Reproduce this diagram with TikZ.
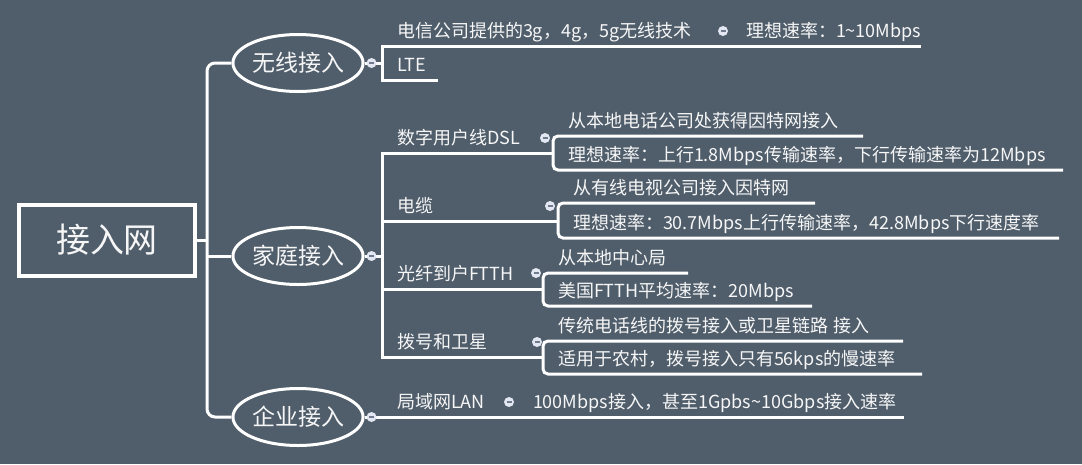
\documentclass[tikz,border=0pt]{standalone}
\usepackage{fontspec}
\setmainfont{Noto Sans CJK SC}
\usetikzlibrary{shapes,positioning}
\definecolor{mapbg}{RGB}{80,94,108}
\definecolor{mapknob}{RGB}{226,231,242}
\definecolor{mapbar}{RGB}{112,124,142}
\definecolor{maptext}{RGB}{246,246,246}
\tikzstyle{maplink} = [draw=white, line width=3pt]
\tikzstyle{rootbox} = [rectangle, draw=white, line width=4pt, minimum width=176pt, minimum height=71pt, text=maptext, font=\fontsize{34}{36}\selectfont]
\tikzstyle{branchbox} = [ellipse, draw=white, line width=3pt, minimum width=129pt, minimum height=57pt, inner sep=0pt, text=maptext, font=\fontsize{23}{25}\selectfont]
\tikzstyle{topicbox} = [anchor=south west, inner xsep=15pt, inner ysep=6pt, outer sep=0pt, text height=15.8pt, text depth=2.2pt, align=left, text=maptext, font=\fontsize{18}{20}\selectfont]
\tikzstyle{knobdot} = [circle, fill=mapknob, minimum size=10pt, inner sep=0pt]
\newcommand{\minusbar}{\textcolor{mapbar}{\rule{5pt}{1.8pt}}}

\begin{document}
\begin{tikzpicture}[x=1pt, y=-1pt]
% Background
\fill[mapbg] (0,0) rectangle (1082,464);
\useasboundingbox (0,0) rectangle (1082,464);

% Root and main branches
\node (net) [rootbox] at (107,240) {接入网};
\node (wx) [branchbox] at (298,63) {无线接入};
\node (jt) [branchbox] at (298,256) {家庭接入};
\node (qy) [branchbox] at (298,417) {企业接入};
\coordinate (hub) at (207,240);

% Wireless topics
\node (wx1) [topicbox, text width=319pt] at (382,46) {电信公司提供的3g，4g，5g无线技术};
\node (wx1a) [topicbox, text width=160pt] at (wx1.south east) {理想速率：1\textasciitilde 10Mbps};
\node (wx2) [topicbox, text width=26pt] at (382,80) {LTE};

% Home topics
\node (jt1) [topicbox, text width=141pt] at (382,153) {数字用户线DSL};
\node (jt1a) [topicbox, text width=280pt] at ([yshift=17pt]jt1.south east) {从本地电话公司处获得因特网接入};
\node (jt1b) [topicbox, text width=480pt] at ([yshift=-17pt]jt1.south east) {理想速率：上行1.8Mbps传输速率，下行传输速率为12Mbps};

\node (jt2) [topicbox, text width=146pt] at (382,221) {电缆};
\node (jt2a) [topicbox, text width=227pt] at ([yshift=18pt]jt2.south east) {从有线电视公司接入因特网};
\node (jt2b) [topicbox, text width=471pt] at ([yshift=-17pt]jt2.south east) {理想速率：30.7Mbps上行传输速率，42.8Mbps下行速度率};

\node (jt3) [topicbox, text width=131pt] at (382,289) {光纤到户FTTH};
\node (jt3a) [topicbox, text width=115pt] at ([yshift=16pt]jt3.south east) {从本地中心局};
\node (jt3b) [topicbox, text width=239pt] at ([yshift=-17pt]jt3.south east) {美国FTTH平均速率：20Mbps};

\node (jt4) [topicbox, text width=131pt] at (382,357) {拨号和卫星};
\node (jt4a) [topicbox, text width=330pt] at ([yshift=16pt]jt4.south east) {传统电话线的拨号接入或卫星链路~接入};
\node (jt4b) [topicbox, text width=349pt] at ([yshift=-17pt]jt4.south east) {适用于农村，拨号接入只有56kps的慢速率};

% Enterprise topics
\node (qy1) [topicbox, text width=106pt] at (382,417) {局域网LAN};
\node (qy1a) [topicbox, text width=356pt] at (qy1.south east) {100Mbps接入，甚至1Gpbs\textasciitilde 10Gbps接入速率};

% Connectors
\draw[maplink, rounded corners=8pt] (wx.west) -| (hub) |- (qy.west);
\draw[maplink] (net.east) -- (hub);
\draw[maplink] (hub |- jt.west) -- (jt.west);

\draw[maplink] (wx.east) -- (wx.east -| wx1.south west);
\draw[maplink] (wx1a.south east) -- (wx1.south west) -- (wx2.south west) -- (wx2.south east);

\draw[maplink] (jt.east) -- (jt.east -| jt1.south west);
\draw[maplink] (jt1.south east) -- (jt1.south west) -- (jt4.south west) -- (jt4.south east);
\draw[maplink] (jt2.south west) -- (jt2.south east);
\draw[maplink] (jt3.south west) -- (jt3.south east);
\draw[maplink, rounded corners=5pt] (jt1a.south east) -- (jt1a.south west) -- (jt1b.south west) -- (jt1b.south east);
\draw[maplink, rounded corners=5pt] (jt2a.south east) -- (jt2a.south west) -- (jt2b.south west) -- (jt2b.south east);
\draw[maplink, rounded corners=5pt] (jt3a.south east) -- (jt3a.south west) -- (jt3b.south west) -- (jt3b.south east);
\draw[maplink, rounded corners=5pt] (jt4a.south east) -- (jt4a.south west) -- (jt4b.south west) -- (jt4b.south east);

\draw[maplink] (qy.east) -- (qy1.south west) -- (qy1a.south east);

% Collapse knobs
\node (kwx) [knobdot] at ([xshift=7pt]wx.east) {\minusbar};
\node (kjt) [knobdot] at ([xshift=7pt]jt.east) {\minusbar};
\node (kqy) [knobdot] at ([xshift=7pt]qy.east) {\minusbar};
\node (kwx1) [knobdot] at ([xshift=-8pt, yshift=15pt]wx1.south east) {\minusbar};
\node (kjt1) [knobdot] at ([xshift=-8pt, yshift=15pt]jt1.south east) {\minusbar};
\node (kjt2) [knobdot] at ([xshift=-8pt, yshift=15pt]jt2.south east) {\minusbar};
\node (kjt3) [knobdot] at ([xshift=-7pt, yshift=16pt]jt3.south east) {\minusbar};
\node (kjt4) [knobdot] at ([xshift=-6pt, yshift=15pt]jt4.south east) {\minusbar};
\node (kqy1) [knobdot] at ([xshift=-9pt, yshift=15pt]qy1.south east) {\minusbar};
\end{tikzpicture}
\end{document}
